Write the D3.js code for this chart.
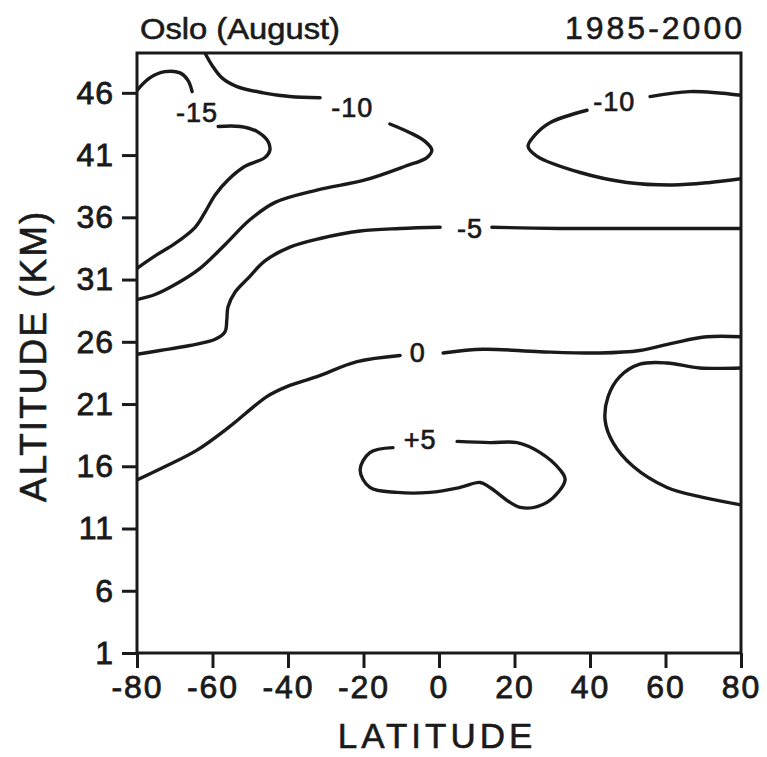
<!DOCTYPE html>
<html><head><meta charset="utf-8">
<script src="https://cdn.jsdelivr.net/npm/d3@7"></script>
<style>body{margin:0;background:#fff}</style>
</head><body><svg id="c" width="767" height="757"></svg>
<script>
const latTicks = [-80,-60,-40,-20,0,20,40,60,80];
const altTicks = [1,6,11,16,21,26,31,36,41,46];
const titleLeft = "Oslo (August)";
const titleRight = "1985-2000";
const xTitle = "LATITUDE";
const yTitle = "ALTITUDE (KM)";

// contour lines as [latitude, altitude]
const cNeg15Top = [[-80,46.2],[-76.6,47.2],[-72.6,47.7],[-68.6,47.6],[-66.5,47.0],[-65.4,46.1]];
const cNeg15Low = [[-58.5,43.3],[-52.7,43.3],[-48.2,42.9],[-45.3,42.1],[-44.8,41.4],[-46.1,40.8],[-51.4,40.1],[-55.9,39.0],[-59.3,37.8],[-62.0,36.4],[-64.6,35.2],[-69.9,33.9],[-75.2,32.9],[-80,31.9]];
const cNeg10LeftA = [[-62.0,49.2],[-60.1,48.2],[-57.5,47.2],[-53.5,46.5],[-46.6,46.0],[-39.5,45.7],[-31.5,45.6]];
const cNeg10LeftB = [[-13.0,43.5],[-7.7,42.8],[-3.7,42.1],[-1.9,41.4],[-3.2,40.8],[-9.0,40.1],[-19.6,39.0],[-32.1,38.2],[-43.4,37.2],[-50.1,35.8],[-56.7,33.8],[-63.3,31.9],[-69.9,30.6],[-75.2,29.8],[-80,29.4]];
const cNeg10RightA = [[80,45.8],[66.5,46.1],[55.9,45.7]];
const cNeg10RightB = [[39.2,44.6],[29.4,43.6],[25.4,42.6],[23.6,41.7],[26.0,40.9],[37.4,39.6],[49.8,38.8],[62.0,38.6],[71.8,38.8],[80,39.1]];
const cNeg5Left = [[0.3,35.2],[-10.3,35.1],[-20.9,34.9],[-31.5,34.3],[-39.5,33.6],[-46.1,32.5],[-50.6,31.1],[-54.0,30.0],[-55.9,28.8],[-56.2,27.8],[-56.7,26.8],[-59.3,26.2],[-66.0,25.7],[-73.9,25.3],[-80,25.0]];
const cNeg5Right = [[14.0,35.2],[32.1,35.1],[53.2,35.1],[80,35.1]];
const cZeroLeft = [[-80,14.9],[-73.1,15.9],[-64.1,17.3],[-55.4,19.2],[-45.6,21.6],[-40.3,22.4],[-32.3,23.2],[-21.7,24.4],[-10.3,24.9]];
const cZeroRight = [[1.1,25.1],[11.7,25.4],[26.8,25.2],[42.6,25.1],[53.2,25.3],[62.0,25.9],[71.0,26.4],[80,26.4]];
const cZeroRightLobe = [[80,23.9],[69.1,23.9],[60.4,24.3],[53.2,24.2],[47.9,23.2],[44.8,21.6],[44.0,19.7],[46.1,17.9],[51.4,16.0],[60.4,14.3],[69.9,13.5],[80,12.9]];
const cPos5 = [[-12.2,17.5],[-18.3,17.1],[-20.9,15.7],[-18.3,14.3],[-11.1,13.9],[-2.4,13.9],[5.6,14.3],[10.9,14.7],[13.5,14.3],[21.5,12.7],[28.6,13.1],[33.4,14.9],[32.1,15.7],[26.8,17.1],[20.7,17.9],[13.5,17.9],[4.8,18.0]];

const labelTexts = ["-15","-10","-10","-5","0","+5"];
const labelLats = [-64.1,-23.0,46.4,8.2,-5.6,-5.0];
const labelAlts = [44.4,44.8,45.3,35.1,25.1,18.1];

const contours = [cNeg15Top,cNeg15Low,cNeg10LeftA,cNeg10LeftB,cNeg10RightA,cNeg10RightB,cNeg5Left,cNeg5Right,cZeroLeft,cZeroRight,cZeroRightLobe,cPos5];

const svg = d3.select("#c");
const L=137,R=741,T=53,B=653;
const x = d3.scaleLinear().domain([-80,80]).range([L,R]);
const y = d3.scaleLinear().domain([1,49.2]).range([B,T]);
const font = "'Liberation Sans', Arial, sans-serif";
const ink = "#1a1a1a";

const line = d3.line().x(d=>x(d[0])).y(d=>y(d[1])).curve(d3.curveCatmullRom.alpha(0.5));
svg.append("clipPath").attr("id","pc").append("rect").attr("x",L).attr("y",T).attr("width",R-L).attr("height",B-T);
svg.append("g").attr("clip-path","url(#pc)").selectAll("path").data(contours).join("path")
  .attr("d",line).attr("fill","none").attr("stroke",ink).attr("stroke-width",3.4)
  .attr("stroke-linecap","round").attr("stroke-linejoin","round");

function boldish(sel, w){ return sel.attr("stroke",ink).attr("stroke-width",w).attr("fill",ink).attr("font-family",font); }

boldish(svg.append("g").selectAll("text").data(labelTexts).join("text")
  .attr("x",(d,i)=>x(labelLats[i])).attr("y",(d,i)=>y(labelAlts[i]))
  .attr("text-anchor","middle").attr("dominant-baseline","central")
  .attr("font-size",27).attr("letter-spacing",1).text(d=>d), 0.7);

// frame
svg.append("rect").attr("x",L).attr("y",T).attr("width",R-L).attr("height",B-T)
  .attr("fill","none").attr("stroke",ink).attr("stroke-width",3);

const ax = svg.append("g").attr("transform",`translate(0,${B})`)
  .call(d3.axisBottom(x).tickValues(latTicks).tickSize(15).tickPadding(7).tickFormat(d=>d));
const ay = svg.append("g").attr("transform",`translate(${L},0)`)
  .call(d3.axisLeft(y).tickValues(altTicks).tickSize(15).tickPadding(8).tickFormat(d=>d));
[ax,ay].forEach(g=>{
  g.select(".domain").remove();
  g.selectAll(".tick line").attr("stroke",ink).attr("stroke-width",3);
  boldish(g.selectAll(".tick text").attr("font-size",32), 0.8);
});
ax.selectAll(".tick text").attr("letter-spacing",2);
ay.selectAll(".tick text").attr("letter-spacing",1);

boldish(svg.append("text").attr("x",140).attr("y",39).attr("font-size",30)
  .attr("textLength",200).attr("lengthAdjust","spacingAndGlyphs").text(titleLeft), 0.6);
boldish(svg.append("text").attr("x",745).attr("y",39).attr("text-anchor","end").attr("font-size",32)
  .attr("letter-spacing",3).text(titleRight), 0.6);
boldish(svg.append("text").attr("x",(L+R)/2-2).attr("y",748).attr("text-anchor","middle")
  .attr("font-size",35).attr("letter-spacing",4).text(xTitle), 0.6);
boldish(svg.append("text").attr("transform","translate(46,356) rotate(-90)").attr("text-anchor","middle")
  .attr("font-size",37).attr("letter-spacing",2).text(yTitle), 0.6);
</script></body></html>
